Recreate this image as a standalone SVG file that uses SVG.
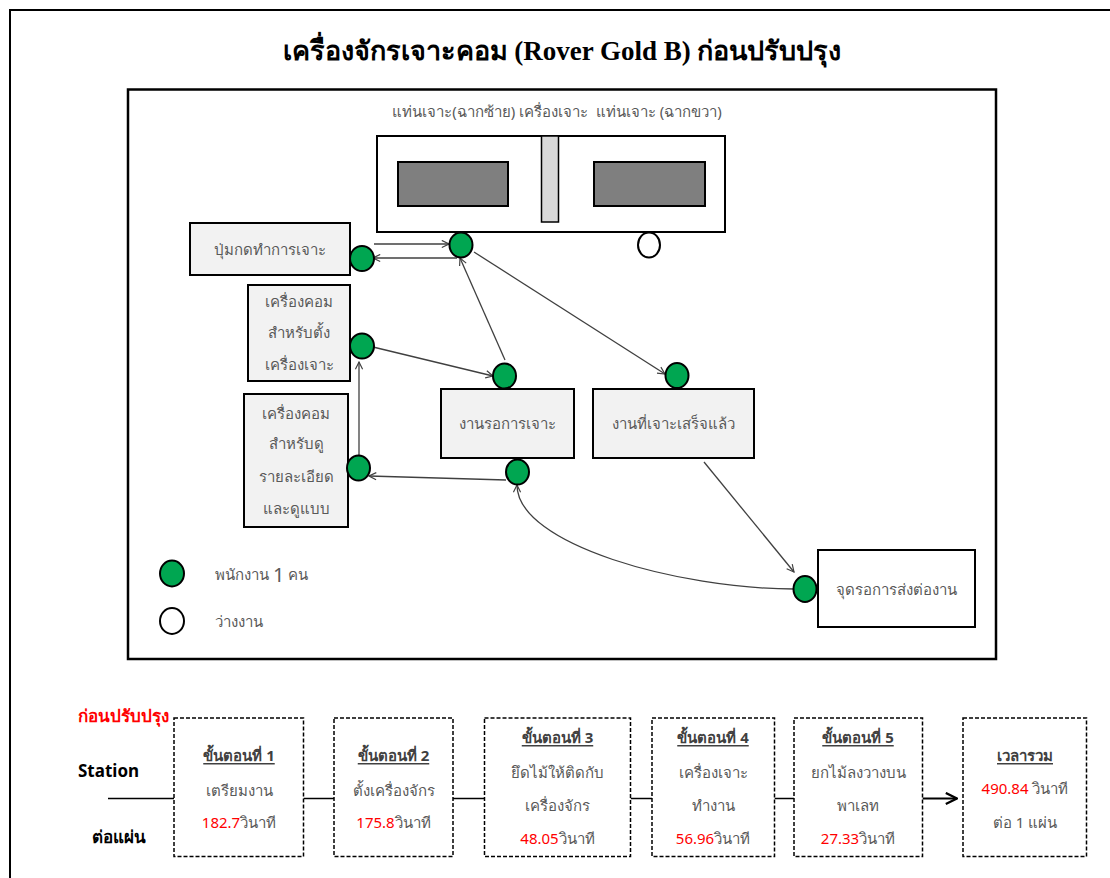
<svg xmlns="http://www.w3.org/2000/svg" width="1110" height="878" viewBox="0 0 1110 878">
<style>
.frame{fill:none;stroke:#000;stroke-width:2}
.box{fill:#f2f2f2;stroke:#000;stroke-width:2}
.wbox{fill:#fff;stroke:#000;stroke-width:2}
.dbox{fill:#fff;stroke:#000;stroke-width:1.5;stroke-dasharray:4 2}
.t{font-family:"Noto Sans","DejaVu Sans",sans-serif;font-size:15px;fill:#595959;text-anchor:middle;dominant-baseline:central}
.tl{font-family:"Noto Sans","DejaVu Sans",sans-serif;font-size:15px;fill:#595959;dominant-baseline:central}
.b{font-family:"Noto Sans","DejaVu Sans",sans-serif;font-size:15px;font-weight:bold;fill:#404040;text-anchor:middle;dominant-baseline:central;text-decoration:underline}
.r{fill:#ff0000}
.g{fill:#00a651;stroke:#000;stroke-width:2}
.w{fill:#fff;stroke:#000;stroke-width:2}
.c{fill:none;stroke:#404040;stroke-width:1.3}
.h{fill:none;stroke:#000;stroke-width:1.5}
</style>
<defs>
<marker id="a" viewBox="0 0 10 10" refX="9" refY="5" markerWidth="9" markerHeight="9" markerUnits="userSpaceOnUse" orient="auto">
<path d="M1,1 L9,5 L1,9" fill="none" stroke="#404040" stroke-width="1.3"/>
</marker>
<marker id="ab" viewBox="0 0 10 10" refX="9" refY="5" markerWidth="14" markerHeight="14" markerUnits="userSpaceOnUse" orient="auto">
<path d="M1,1 L9,5 L1,9" fill="none" stroke="#000" stroke-width="1.6"/>
</marker>
</defs>
<rect width="1110" height="878" fill="#fff"/>
<rect class="frame" x="10" y="10" width="1120" height="890"/>
<text x="562" y="60" text-anchor="middle" font-family="'Liberation Serif','DejaVu Serif',serif" font-size="27" font-weight="bold" fill="#000">เครื่องจักรเจาะคอม (Rover Gold B) ก่อนปรับปรุง</text>
<rect x="128" y="89.5" width="868" height="569.5" fill="#fff" stroke="#000" stroke-width="2.5"/>

<g id="machine">
<text class="t" x="557" y="111" style="white-space:pre">แท่นเจาะ(ฉากซ้าย) เครื่องเจาะ  แท่นเจาะ (ฉากขวา)</text>
<rect class="wbox" x="377" y="136" width="348" height="96"/>
<rect x="398" y="162" width="110" height="44" fill="#7f7f7f" stroke="#000" stroke-width="2"/>
<rect x="594" y="162" width="111" height="44" fill="#7f7f7f" stroke="#000" stroke-width="2"/>
<rect x="541.5" y="136" width="17" height="86" fill="#d9d9d9" stroke="#000" stroke-width="1.5"/>
</g>

<g id="connectors">
<line class="c" x1="374" y1="244" x2="449" y2="244" marker-end="url(#a)"/>
<line class="c" x1="457" y1="258" x2="373" y2="258" marker-end="url(#a)"/>
<line class="c" x1="373" y1="347" x2="493" y2="376" marker-end="url(#a)"/>
<line class="c" x1="505" y1="360" x2="460" y2="258" marker-end="url(#a)"/>
<line class="c" x1="474" y1="252" x2="665" y2="374" marker-end="url(#a)"/>
<line class="c" x1="704" y1="462" x2="794" y2="572" marker-end="url(#a)"/>
<path class="c" d="M794,589 C680,589 517,545 517,485" marker-end="url(#a)"/>
<line class="c" x1="506" y1="480" x2="369" y2="476" marker-end="url(#a)"/>
<line class="c" x1="359" y1="456" x2="359" y2="362" marker-end="url(#a)"/>
<line class="h" x1="108" y1="798.5" x2="174" y2="798.5"/>
<line class="h" x1="303.5" y1="798.5" x2="334" y2="798.5"/>
<line class="h" x1="453" y1="798.5" x2="484.5" y2="798.5"/>
<line class="h" x1="630.5" y1="798.5" x2="652" y2="798.5"/>
<line class="h" x1="774.5" y1="798.5" x2="794" y2="798.5"/>
<line x1="922.5" y1="798.5" x2="957" y2="798.5" stroke="#000" stroke-width="2" marker-end="url(#ab)"/>
</g>

<g id="node-button">
<rect class="box" x="190" y="223" width="160" height="52"/>
<text class="t" x="270" y="249">ปุ่มกดทำการเจาะ</text>
</g>
<g id="node-pc-setup">
<rect class="box" x="248" y="285" width="102" height="96"/>
<text class="t" x="299" y="301">เครื่องคอม</text>
<text class="t" x="299" y="332">สำหรับตั้ง</text>
<text class="t" x="299" y="364">เครื่องเจาะ</text>
</g>
<g id="node-pc-view">
<rect class="box" x="244" y="394" width="104" height="133"/>
<text class="t" x="296" y="413">เครื่องคอม</text>
<text class="t" x="296" y="443">สำหรับดู</text>
<text class="t" x="296" y="476">รายละเอียด</text>
<text class="t" x="296" y="508">และดูแบบ</text>
</g>
<g id="node-waiting">
<rect class="box" x="441" y="389" width="133" height="69"/>
<text class="t" x="507.5" y="423">งานรอการเจาะ</text>
</g>
<g id="node-done">
<rect class="box" x="593" y="389" width="161" height="69"/>
<text class="t" x="673.5" y="423">งานที่เจาะเสร็จแล้ว</text>
</g>
<g id="node-handoff">
<rect class="wbox" x="818" y="550" width="157" height="77"/>
<text class="t" x="896" y="589">จุดรอการส่งต่องาน</text>
</g>

<g id="workers">
<ellipse class="g" cx="461" cy="245" rx="11.5" ry="12.5"/>
<ellipse class="w" cx="649" cy="245" rx="11" ry="12.5"/>
<ellipse class="g" cx="362" cy="258.5" rx="12" ry="12.5"/>
<ellipse class="g" cx="362" cy="346" rx="12" ry="12.5"/>
<ellipse class="g" cx="358.5" cy="468" rx="11.5" ry="12.5"/>
<ellipse class="g" cx="504.5" cy="376" rx="11.5" ry="12.5"/>
<ellipse class="g" cx="517.5" cy="472" rx="11.5" ry="12.5"/>
<ellipse class="g" cx="677" cy="375.5" rx="11.5" ry="12.5"/>
<ellipse class="g" cx="805" cy="589" rx="11.5" ry="13"/>
</g>

<g id="legend">
<ellipse class="g" cx="172" cy="573.5" rx="12" ry="13"/>
<text class="tl" x="215" y="574">พนักงาน <tspan font-size="20">1</tspan> คน</text>
<ellipse class="w" cx="172" cy="621" rx="12" ry="13"/>
<text class="tl" x="215" y="621">ว่างงาน</text>
</g>

<g id="labels">
<text x="78" y="715" font-family="'Noto Sans','DejaVu Sans',sans-serif" font-size="17" font-weight="bold" fill="#ff0000" dominant-baseline="central">ก่อนปรับปรุง</text>
<text x="78" y="770" font-family="'Noto Sans','DejaVu Sans',sans-serif" font-size="17" font-weight="bold" fill="#000" dominant-baseline="central">Station</text>
<text x="92" y="836" font-family="'Noto Sans','DejaVu Sans',sans-serif" font-size="17" font-weight="bold" fill="#000" dominant-baseline="central">ต่อแผ่น</text>
</g>

<g id="step1">
<rect class="dbox" x="174" y="718" width="129.5" height="138.5"/>
<text class="b" x="239" y="755">ขั้นตอนที่ 1</text>
<text class="t" x="239" y="790">เตรียมงาน</text>
<text class="t" x="239" y="822"><tspan class="r">182.7</tspan>วินาที</text>
</g>
<g id="step2">
<rect class="dbox" x="334" y="718" width="119" height="138.5"/>
<text class="b" x="393.5" y="755">ขั้นตอนที่ 2</text>
<text class="t" x="393.5" y="790">ตั้งเครื่องจักร</text>
<text class="t" x="393.5" y="822"><tspan class="r">175.8</tspan>วินาที</text>
</g>
<g id="step3">
<rect class="dbox" x="484.5" y="718" width="146" height="138.5"/>
<text class="b" x="557.5" y="737">ขั้นตอนที่ 3</text>
<text class="t" x="557.5" y="772">ยึดไม้ให้ติดกับ</text>
<text class="t" x="557.5" y="805">เครื่องจักร</text>
<text class="t" x="557.5" y="838"><tspan class="r">48.05</tspan>วินาที</text>
</g>
<g id="step4">
<rect class="dbox" x="652" y="718" width="122.5" height="138.5"/>
<text class="b" x="713" y="737">ขั้นตอนที่ 4</text>
<text class="t" x="713" y="772">เครื่องเจาะ</text>
<text class="t" x="713" y="805">ทำงาน</text>
<text class="t" x="713" y="838"><tspan class="r">56.96</tspan>วินาที</text>
</g>
<g id="step5">
<rect class="dbox" x="794" y="718" width="128.5" height="138.5"/>
<text class="b" x="858" y="737">ขั้นตอนที่ 5</text>
<text class="t" x="858" y="772">ยกไม้ลงวางบน</text>
<text class="t" x="858" y="805">พาเลท</text>
<text class="t" x="858" y="838"><tspan class="r">27.33</tspan>วินาที</text>
</g>
<g id="total">
<rect class="dbox" x="963" y="718" width="123.5" height="138.5"/>
<text class="b" x="1025" y="755">เวลารวม</text>
<text class="t" x="1025" y="788"><tspan class="r">490.84</tspan> วินาที</text>
<text class="t" x="1025" y="822">ต่อ 1 แผ่น</text>
</g>
</svg>
